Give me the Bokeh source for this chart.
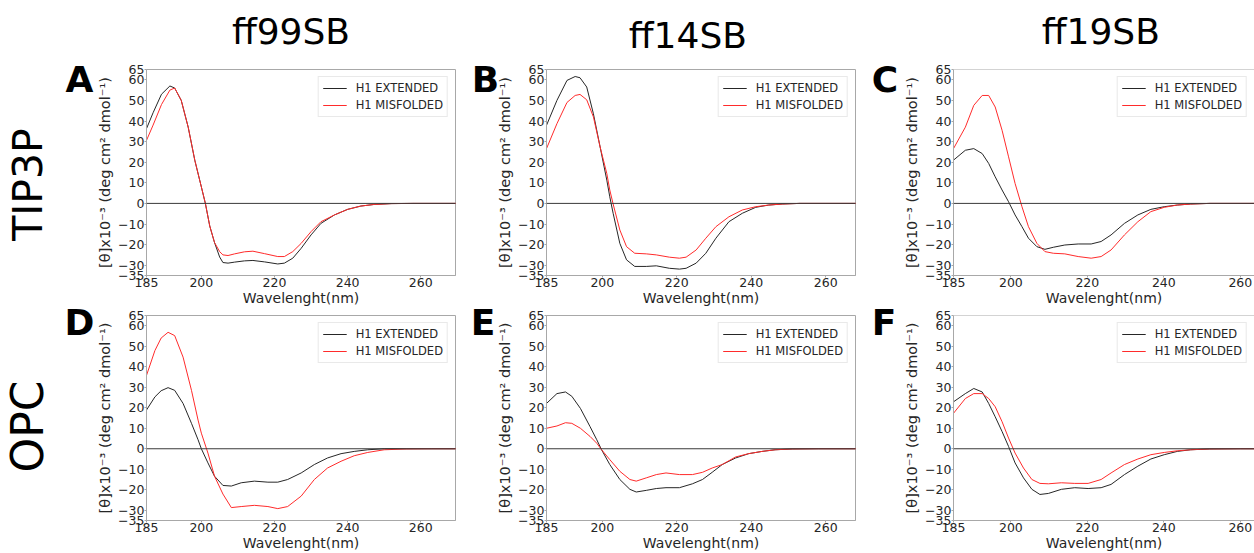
import math
from bokeh.plotting import figure
from bokeh.models import Range1d, FixedTicker, Span
from bokeh.layouts import column, row
from bokeh.core.properties import value
from bokeh.embed import file_html
from bokeh.resources import INLINE

FONT = "DejaVu Sans"
FRAME = "#a8a8a8"
Y_MIN, Y_MAX = -35, 65
X_MIN = 185
y_ticks = [-35, -30, -20, -10, 0, 10, 20, 30, 40, 50, 60, 65]
x_ticks = [185, 200, 220, 240, 260]
series_names = ["H1 EXTENDED", "H1 MISFOLDED"]
col_titles = ["ff99SB", "ff14SB", "ff19SB"]
row_titles = ["TIP3P", "OPC"]
panel_letters = ["A", "B", "C", "D", "E", "F"]
x_label = "Wavelenght(nm)"
y_label = "[θ]x10⁻³ (deg cm² dmol⁻¹)"

# ---- data ----
wl_A = [185, 186.8, 189.1, 191.4, 192.7, 194.5, 196.4, 198.2, 200, 201.1, 202.3, 203.6, 205, 205.9, 207.3,
        209.1, 211.8, 214.1, 217.3, 220.9, 222.7, 225, 227.3, 230, 232.7, 236.4, 240, 243.6, 247.3, 252, 258, 264, 270]
ext_A = [36.3, 44, 53, 57, 56, 50, 37, 21, 8, 0, -11, -19, -26, -28.7, -29, -28.5, -27.9, -27.7, -28.4, -29.4,
         -29, -26.6, -21.8, -15.3, -9.7, -5.6, -2.9, -1.3, -0.5, -0.1, 0, 0, 0]
mis_A = [30.6, 38, 48, 55, 56, 50, 37, 21, 8, 0, -11, -19, -23.4, -25, -25.3, -24.5, -23.5, -23.2, -24.4, -25.8,
         -25.8, -23.4, -19.4, -13.7, -8.9, -5.6, -2.9, -1.3, -0.5, -0.1, 0, 0, 0]

wl_B = [185, 187.8, 190.5, 192.7, 194, 195.8, 197.6, 199.4, 201.2, 202, 202.9, 204.7, 206.5, 208.7, 211.8,
        214.5, 218, 220.7, 222.5, 225.2, 227.8, 230.5, 234, 237.6, 241.2, 244.7, 248.3, 253, 260, 270]
ext_B = [37.9, 50, 59.7, 61.6, 61, 56.5, 43.5, 27.4, 11.3, 3.2, -4.8, -19.4, -27.4, -30.6, -30.6, -30.3, -31.5,
         -31.9, -31.5, -29, -24.2, -16.9, -8.9, -4.8, -1.9, -0.8, -0.3, 0, 0, 0]
mis_B = [26.6, 38.7, 49, 52.4, 52.9, 50.3, 42, 27.4, 14.5, 6.5, -0.3, -12.9, -21, -24.2, -24.5, -25, -26.1,
         -26.6, -26.1, -22.6, -16.9, -11.3, -6.5, -3.2, -1.6, -0.8, -0.3, 0, 0, 0]

wl_C = [185, 188.1, 190.3, 192.5, 194.2, 195.9, 197.7, 199.4, 201.1, 202.9, 204.6, 206.8, 208.9, 211.1, 214.1,
        217.6, 221, 223.6, 226.2, 229.7, 233.2, 236.6, 240.1, 243.5, 247, 252, 260, 270]
ext_C = [21, 25.8, 26.6, 24.2, 19.4, 12.9, 6.5, 0.8, -5.6, -11.3, -16.9, -21, -22.3, -21.3, -20.2, -19.7, -19.7,
         -18.5, -15.3, -9.7, -5.6, -2.9, -1.6, -0.8, -0.3, 0, 0, 0]
mis_C = [26.6, 37, 47.6, 52.4, 52.4, 46.8, 35.5, 22.6, 9.7, -1.6, -11.3, -19.4, -23.4, -24.2, -24.5, -25.8, -26.6,
         -25.8, -22.6, -15.3, -8.9, -4, -1.9, -0.8, -0.3, 0, 0, 0]

wl_D = [185, 187.3, 189, 190.9, 192.7, 195, 197.3, 199.1, 200, 201.8, 203.6, 205.9, 208.2, 210.9, 214.5, 218.2,
        220.9, 223.6, 227.3, 230.9, 234.5, 238.2, 241.8, 245.5, 250, 256, 263, 270]
ext_D = [18.9, 25.3, 28.3, 29.8, 28.5, 22.1, 12.4, 4.4, 0, -6.9, -13.4, -17.9, -18.2, -16.6, -15.8, -16.3, -16.3,
         -15, -11.8, -7.7, -4.5, -2.4, -1.3, -0.5, 0, 0, 0, 0]
mis_D = [35.8, 47.9, 54, 56.8, 55.2, 44.7, 28.5, 14, 7.6, -2.1, -13.4, -22.1, -28.7, -28.2, -27.6, -28.2, -29.2,
         -28.2, -23.1, -15, -9.4, -6.1, -3.4, -1.8, -0.5, -0.1, 0, 0]

wl_E = [185, 187.8, 190.1, 191.8, 194.1, 196.7, 198.5, 199.8, 202, 204.7, 207.4, 209.1, 211.8, 214.5, 217.1,
        220.7, 224.2, 226.9, 229.5, 232.2, 235.8, 239.3, 242.9, 246.4, 251, 258, 270]
ext_E = [22.1, 26.9, 27.7, 25.6, 19.7, 10.8, 4.4, -0.5, -7.7, -15, -19.8, -21.1, -20.3, -19.4, -19, -19, -17.1,
         -15, -11.5, -7.7, -4.5, -2.4, -1.3, -0.5, -0.1, 0, 0]
mis_E = [10, 11.1, 12.7, 12.4, 10, 6, 2.7, -0.5, -5.3, -11, -15, -15.8, -14.2, -12.6, -11.8, -12.6, -12.6, -11.5,
         -9.4, -7.7, -4, -2.4, -1.3, -0.5, -0.1, 0, 0]

wl_F = [185, 188.1, 190.3, 192.5, 194.2, 195.9, 197.7, 199.4, 201.1, 203.3, 205.5, 207.6, 209.8, 213.2, 216.7,
        220.2, 223.6, 226.2, 229.7, 233.2, 236.6, 240.1, 243.5, 247, 252, 260, 270]
ext_F = [22.9, 26.9, 29.4, 27.7, 22.1, 15.6, 8.4, 1.1, -6.9, -14.2, -19.8, -22.3, -21.8, -19.8, -19, -19.4, -19,
         -17.4, -12.6, -8.5, -5, -2.9, -1.3, -0.5, -0.1, 0, 0]
mis_F = [17.3, 24.5, 26.9, 26.9, 24.5, 20.5, 13.2, 5.2, -2.1, -9.4, -15, -16.9, -17.1, -16.6, -16.9, -16.9, -15,
         -11.8, -7.7, -5, -2.9, -1.8, -1, -0.5, -0.1, 0, 0]


def text_fig(w, h):
    """Blank strip whose coordinates are pixels (y downwards), used to hold free texts."""
    p = figure(width=w, height=h, x_range=Range1d(0, w), y_range=Range1d(h, 0),
               output_backend="svg", toolbar_location=None,
               min_border_left=0, min_border_right=0, min_border_top=0, min_border_bottom=0)
    p.axis.visible = False
    p.grid.visible = False
    p.outline_line_color = None
    return p


def put_text(p, x, y, t, size, bold=False, angle=0.0, color="black"):
    p.text(x=[x], y=[y], text=[t], angle=angle, text_font=value(FONT), text_font_size=size,
           text_font_style="bold" if bold else "normal", text_align="center",
           text_baseline="alphabetic", text_color=color)


def panel(wl, ext, mis, x_end, w, h, bl, br, bt, bb, open_right=False):
    p = figure(width=w, height=h, x_range=Range1d(X_MIN, x_end), y_range=Range1d(Y_MIN, Y_MAX),
               output_backend="svg", toolbar_location=None,
               min_border_left=bl, min_border_right=br, min_border_top=bt, min_border_bottom=bb)
    p.grid.visible = False
    if open_right:
        p.outline_line_color = None
        p.add_layout(Span(location=Y_MAX, dimension="width", line_color=FRAME, line_width=1))
    else:
        p.outline_line_color = FRAME

    p.line(wl, ext, color="#262626", line_width=1, legend_label=series_names[0])
    p.line(wl, mis, color="#ff2b2b", line_width=1, legend_label=series_names[1])
    p.add_layout(Span(location=0, dimension="width", line_color="#3a3a3a", line_width=1))

    p.xaxis.ticker = FixedTicker(ticks=x_ticks)
    p.yaxis.ticker = FixedTicker(ticks=y_ticks)
    p.yaxis.major_label_overrides = {t: str(t).replace("-", "\u2212") for t in y_ticks}
    p.xaxis.axis_label = x_label
    for ax in (p.xaxis, p.yaxis):
        ax.major_label_text_font = FONT
        ax.major_label_text_font_size = "12.5px"
        ax.major_label_text_color = "#262626"
        ax.axis_line_color = FRAME
        ax.major_tick_line_color = FRAME
        ax.major_tick_out = 2
        ax.major_tick_in = 0
        ax.minor_tick_line_color = None
        ax.major_label_standoff = 0
    p.xaxis.axis_label_text_font = FONT
    p.xaxis.axis_label_text_font_style = "normal"
    p.xaxis.axis_label_text_font_size = "14px"
    p.xaxis.axis_label_text_color = "#262626"
    p.xaxis.axis_label_standoff = 0

    lg = p.legend[0]
    lg.location = "top_right"
    lg.margin = 7
    lg.padding = 4
    lg.spacing = 3
    lg.glyph_width = 24
    lg.glyph_height = 14
    lg.label_height = 14
    lg.label_standoff = 9
    lg.label_text_font = FONT
    lg.label_text_font_size = "11.5px"
    lg.label_text_color = "#262626"
    lg.border_line_color = "#d4d4d4"
    lg.background_fill_alpha = 0.85
    return p


H_TOTAL = 553
H_TITLE, H_ROW1, H_ROW2 = 60, 249, 244
X_ENDS = [269.5, 268.0, 263.7]
YLAB_SIZE = "14.5px"
LETTER_SIZE = "36px"
TITLE_SIZE = "36px"

# left strip: row labels, letters A/D, y label of A/D
tL = text_fig(115, H_TOTAL)
put_text(tL, 27, 184, row_titles[0], "41px", angle=math.pi / 2)
put_text(tL, 27, 426, row_titles[1], "44px", angle=math.pi / 2)
put_text(tL, 79, 79, panel_letters[0], LETTER_SIZE, bold=True)
put_text(tL, 79, 322, panel_letters[3], LETTER_SIZE, bold=True)
put_text(tL, 104, 172, y_label, YLAB_SIZE, angle=math.pi / 2, color="#262626")
put_text(tL, 104, 417.5, y_label, YLAB_SIZE, angle=math.pi / 2, color="#262626")

# middle strip 1 (x from 470): letters B/E, y label of B/E
tM1 = text_fig(45, H_TOTAL)
put_text(tM1, 15, 79, panel_letters[1], LETTER_SIZE, bold=True)
put_text(tM1, 12.5, 322, panel_letters[4], LETTER_SIZE, bold=True)
put_text(tM1, 34, 172, y_label, YLAB_SIZE, angle=math.pi / 2, color="#262626")
put_text(tM1, 34, 417.5, y_label, YLAB_SIZE, angle=math.pi / 2, color="#262626")

# middle strip 2 (x from 868): letters C/F, y label of C/F
tM2 = text_fig(54, H_TOTAL)
put_text(tM2, 16.5, 79, panel_letters[2], LETTER_SIZE, bold=True)
put_text(tM2, 15.5, 322, panel_letters[5], LETTER_SIZE, bold=True)
put_text(tM2, 43, 172, y_label, YLAB_SIZE, angle=math.pi / 2, color="#262626")
put_text(tM2, 43, 417.5, y_label, YLAB_SIZE, angle=math.pi / 2, color="#262626")

# column titles
hA = text_fig(355, H_TITLE)
put_text(hA, 166, 31, col_titles[0], TITLE_SIZE)
hB = text_fig(353, H_TITLE)
put_text(hB, 161.5, 35, col_titles[1], TITLE_SIZE)
hC = text_fig(332, H_TITLE)
put_text(hC, 162.5, 31, col_titles[2], TITLE_SIZE)

pA = panel(wl_A, ext_A, mis_A, X_ENDS[0], 355, H_ROW1, 29, 15, 9, 34)
pB = panel(wl_B, ext_B, mis_B, X_ENDS[1], 353, H_ROW1, 29, 13, 9, 34)
pC = panel(wl_C, ext_C, mis_C, X_ENDS[2], 332, H_ROW1, 29, 0, 9, 34, open_right=True)
pD = panel(wl_D, ext_D, mis_D, X_ENDS[0], 355, H_ROW2, 29, 15, 6, 33)
pE = panel(wl_E, ext_E, mis_E, X_ENDS[1], 353, H_ROW2, 29, 13, 6, 33)
pF = panel(wl_F, ext_F, mis_F, X_ENDS[2], 332, H_ROW2, 29, 0, 6, 33, open_right=True)

layout = row(tL, column(hA, pA, pD), tM1, column(hB, pB, pE), tM2, column(hC, pC, pF))
open("out.html", "w").write(file_html(layout, INLINE))
